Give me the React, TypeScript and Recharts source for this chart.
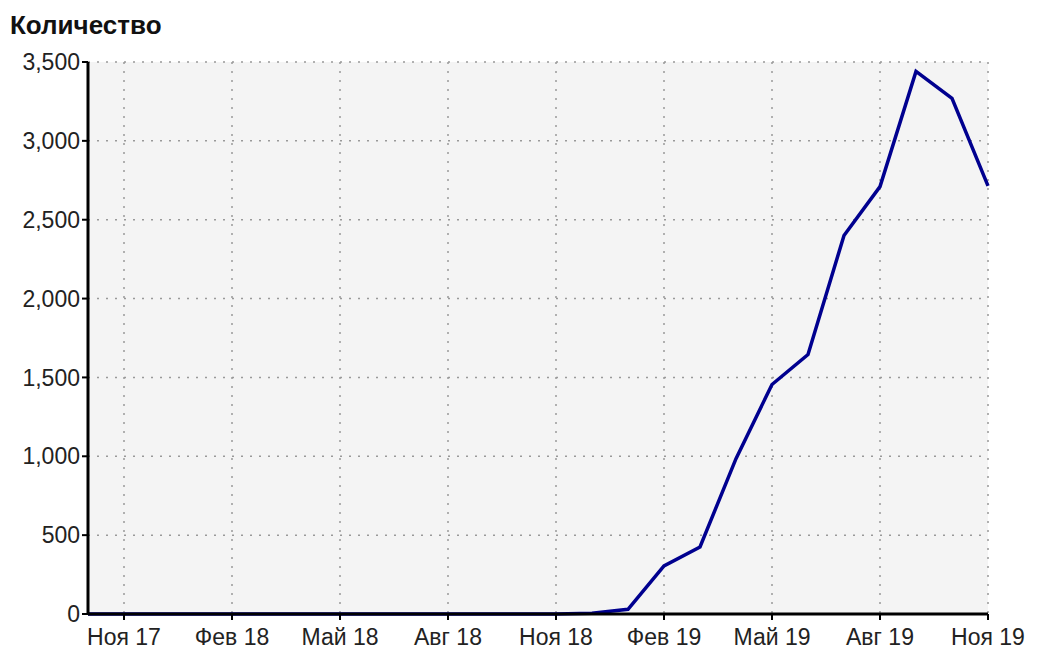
import { LineChart, Line, XAxis, YAxis, CartesianGrid } from 'recharts'

// months from Окт 17 to Ноя 19
const MONTHS = [
  'Окт 17', 'Ноя 17', 'Дек 17', 'Янв 18', 'Фев 18', 'Мар 18', 'Апр 18', 'Май 18', 'Июн 18',
  'Июл 18', 'Авг 18', 'Сен 18', 'Окт 18', 'Ноя 18', 'Дек 18', 'Янв 19', 'Фев 19', 'Мар 19',
  'Апр 19', 'Май 19', 'Июн 19', 'Июл 19', 'Авг 19', 'Сен 19', 'Окт 19', 'Ноя 19',
]
const COUNTS = [
  0, 0, 0, 0, 0, 0, 0, 0, 0, 0, 0, 0, 0, 0, 5, 30, 305, 425,
  985, 1455, 1645, 2400, 2710, 3440, 3270, 2715,
]
const X_TICKS = [1, 4, 7, 10, 13, 16, 19, 22, 25]
const Y_TICKS = [0, 500, 1000, 1500, 2000, 2500, 3000, 3500]

const data = MONTHS.map((label, i) => ({ m: i, label, count: COUNTS[i] }))

const tickStyle = { fontFamily: 'Arial, "Liberation Sans", sans-serif', fontSize: 23, fill: '#222' }

export default function App() {
  return (
    <div style={{ position: 'absolute', left: 0, top: 0, width: 1044, height: 672, background: '#fff' }}>
      <div
        style={{
          position: 'absolute',
          left: 10,
          top: 10,
          fontFamily: 'Arial, "Liberation Sans", sans-serif',
          fontWeight: 'bold',
          fontSize: 26,
          color: '#111',
        }}
      >
        Количество
      </div>
      <LineChart width={1044} height={672} data={data} margin={{ top: 62, right: 56, left: 0, bottom: 0 }}>
        <CartesianGrid fill="#f4f4f4" stroke="#999" strokeDasharray="2 7" strokeWidth={1.5} />
        <XAxis
          dataKey="m"
          type="number"
          domain={[0, 25]}
          ticks={X_TICKS}
          tickFormatter={(v) => MONTHS[v]}
          height={58}
          stroke="#000"
          strokeWidth={3}
          tickSize={6}
          tickMargin={9}
          tick={tickStyle}
          tickLine={{ stroke: '#000', strokeWidth: 2 }}
          interval={0}
        />
        <YAxis
          domain={[0, 3500]}
          ticks={Y_TICKS}
          tickFormatter={(v) => v.toLocaleString('en-US')}
          width={88}
          stroke="#000"
          strokeWidth={3}
          tickSize={6}
          tick={tickStyle}
          tickLine={{ stroke: '#000', strokeWidth: 2 }}
          interval={0}
        />
        <Line
          type="linear"
          dataKey="count"
          stroke="#00008f"
          strokeWidth={3.5}
          dot={false}
          isAnimationActive={false}
        />
      </LineChart>
    </div>
  )
}
